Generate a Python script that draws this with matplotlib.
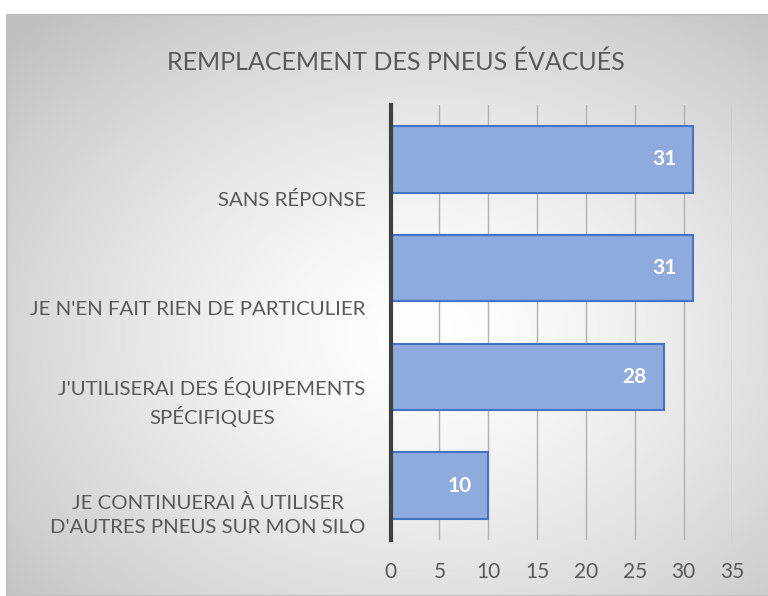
import numpy as np
import matplotlib
matplotlib.use("Agg")
import matplotlib.pyplot as plt
from matplotlib.patches import Rectangle
from matplotlib.transforms import ScaledTranslation, blended_transform_factory

categories = [
    "JE CONTINUERAI À UTILISER\nD'AUTRES PNEUS SUR MON SILO",
    "J'UTILISERAI DES ÉQUIPEMENTS\nSPÉCIFIQUES",
    "JE N'EN FAIT RIEN DE PARTICULIER",
    "SANS RÉPONSE",
]
values = [10, 28, 31, 31]
xticks = [0, 5, 10, 15, 20, 25, 30, 35]
title = "REMPLACEMENT DES PNEUS ÉVACUÉS"

plt.rcParams['font.family'] = ['Lato', 'DejaVu Sans']
W, H = 768, 596
fig = plt.figure(figsize=(W / 100, H / 100), dpi=100)
fig.patch.set_facecolor('white')

# background radial gradient inside bordered area
x0 = 7 / W
bg = fig.add_axes([x0, 0, 1 - x0, (H - 15) / H], zorder=0)
bg.set_axis_off()
yy, xx = np.mgrid[0:1:300j, 0:1:300j]
r = np.sqrt(((xx - 0.55) / 0.75) ** 2 + ((yy - 0.45) / 0.75) ** 2)
val = 1.0 - 0.25 * np.clip(r, 0, 1) ** 1.4
img = np.dstack([val, val, val])
bg.imshow(img, extent=[0, 1, 0, 1], aspect='auto', origin='lower')
bg.set_xlim(0, 1)
bg.set_ylim(0, 1)
fig.add_artist(Rectangle((x0, 0), 1.2, (H - 15) / H, transform=fig.transFigure,
                         fill=False, edgecolor='#bfbfbf', linewidth=1.5, zorder=1))

ax = fig.add_axes([390.7 / W, 56 / H, 341.6 / W, 435 / H], zorder=2)
ax.patch.set_alpha(0)
y = np.arange(len(categories))
bars = ax.barh(y, values, height=0.61, color='#8faadc', edgecolor='#4472c4',
               linewidth=1.5, zorder=3)
ax.set_xlim(0, 35)
ax.set_ylim(-0.5, len(categories) - 0.5)
ax.set_xticks(xticks)
ax.set_xticklabels([str(t) for t in xticks])
ax.set_yticks(y)
ax.set_yticklabels([])
ax.tick_params(axis='both', length=0, colors='#595959', labelsize=15)
ax.tick_params(axis='x', pad=16)
ax.grid(axis='x', color='#b0b0b0', linewidth=1.0, zorder=1)
ax.set_axisbelow(True)
for s in ['top', 'right', 'bottom']:
    ax.spines[s].set_visible(False)
ax.spines['left'].set_color('#404040')
ax.spines['left'].set_linewidth(3)
ax.spines['left'].set_zorder(4)

# category labels (Excel-style: centred multi-line, sitting below bar centre)
tr = blended_transform_factory(ax.transAxes, ax.transData) + \
    ScaledTranslation(-25 / 100, -50 / 100, fig.dpi_scale_trans)
for yi, c in zip(y, categories):
    ax.text(0, yi, c, transform=tr, ha='right', va='bottom', multialignment='center',
            fontsize=14.7, color='#595959', linespacing=1.45)

for b, v in zip(bars, values):
    ax.annotate(str(v), (v, b.get_y() + b.get_height() / 2), xytext=(-17 * 0.72, 0),
                textcoords='offset points', ha='right', va='center', color='white',
                fontsize=15, fontweight='bold', zorder=5)

fig.text(396 / W, 1 - 62 / H, title, ha='center', va='center', fontsize=18,
         color='#595959', fontweight='normal')

fig.savefig('out.png', dpi=100)
